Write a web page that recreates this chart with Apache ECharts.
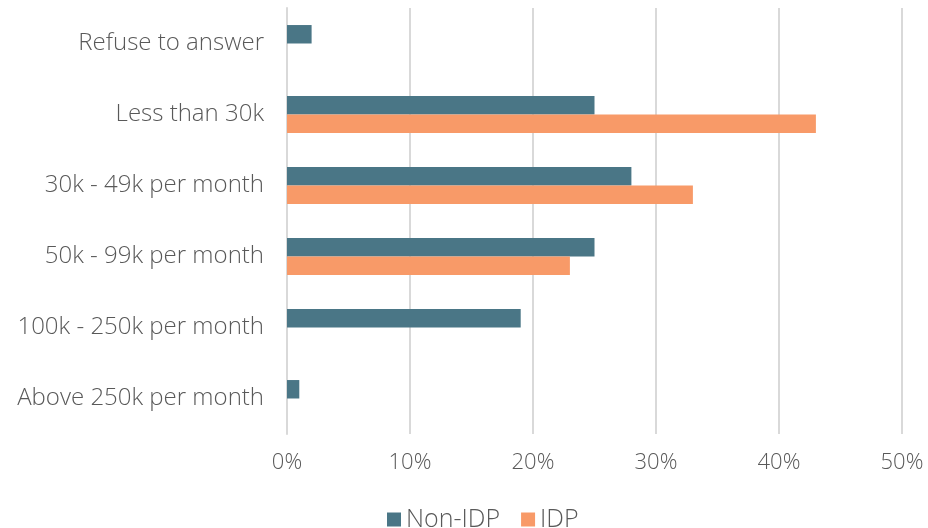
<!DOCTYPE html>
<html>
<head>
<meta charset="utf-8">
<script src="https://cdn.jsdelivr.net/npm/echarts@6/dist/echarts.min.js"></script>
<style>
  html, body { margin: 0; padding: 0; background: #fff; }
  #main { width: 928px; height: 528px; }
</style>
</head>
<body>
<div id="main"></div>
<script>
  const categories = ['Refuse to answer', 'Less than 30k', '30k - 49k per month', '50k - 99k per month', '100k - 250k per month', 'Above 250k per month']
  const nonIdp = [2, 25, 28, 25, 19, 1]
  const idp = [0, 43, 33, 23, 0, 0]

  const textColor = '#595959'
  const font = 'Open Sans'

  const myChart = echarts.init(document.getElementById('main'))
  myChart.setOption({
    animation: false,
    textStyle: { fontFamily: font },
    grid: { left: 287, right: 26, top: 8, bottom: 94 },
    legend: {
      top: 502,
      left: 382,
      itemWidth: 14,
      itemHeight: 14,
      itemGap: 21,
      icon: 'rect',
      textStyle: { color: textColor, fontSize: 25, fontFamily: font, fontWeight: 300 },
      data: ['Non-IDP', 'IDP']
    },
    xAxis: {
      type: 'value',
      min: 0,
      max: 50,
      interval: 10,
      axisLine: { show: false },
      axisTick: { show: false },
      splitLine: { lineStyle: { color: '#d9d9d9', width: 2 } },
      axisLabel: {
        formatter: '{value}%',
        color: textColor,
        fontSize: 22,
        fontWeight: 300,
        margin: 18
      }
    },
    yAxis: {
      type: 'category',
      inverse: true,
      data: categories,
      axisLine: { show: true, lineStyle: { color: '#d9d9d9', width: 2 } },
      axisTick: { show: false },
      axisLabel: {
        color: textColor,
        fontSize: 24,
        fontWeight: 300,
        margin: 23
      }
    },
    series: [
      {
        name: 'Non-IDP',
        type: 'bar',
        data: nonIdp,
        barGap: 0,
        barCategoryGap: '48%',
        itemStyle: { color: '#4a7686' }
      },
      {
        name: 'IDP',
        type: 'bar',
        data: idp,
        barGap: 0,
        barCategoryGap: '48%',
        itemStyle: { color: '#f89a68' }
      }
    ]
  })
</script>
</body>
</html>
